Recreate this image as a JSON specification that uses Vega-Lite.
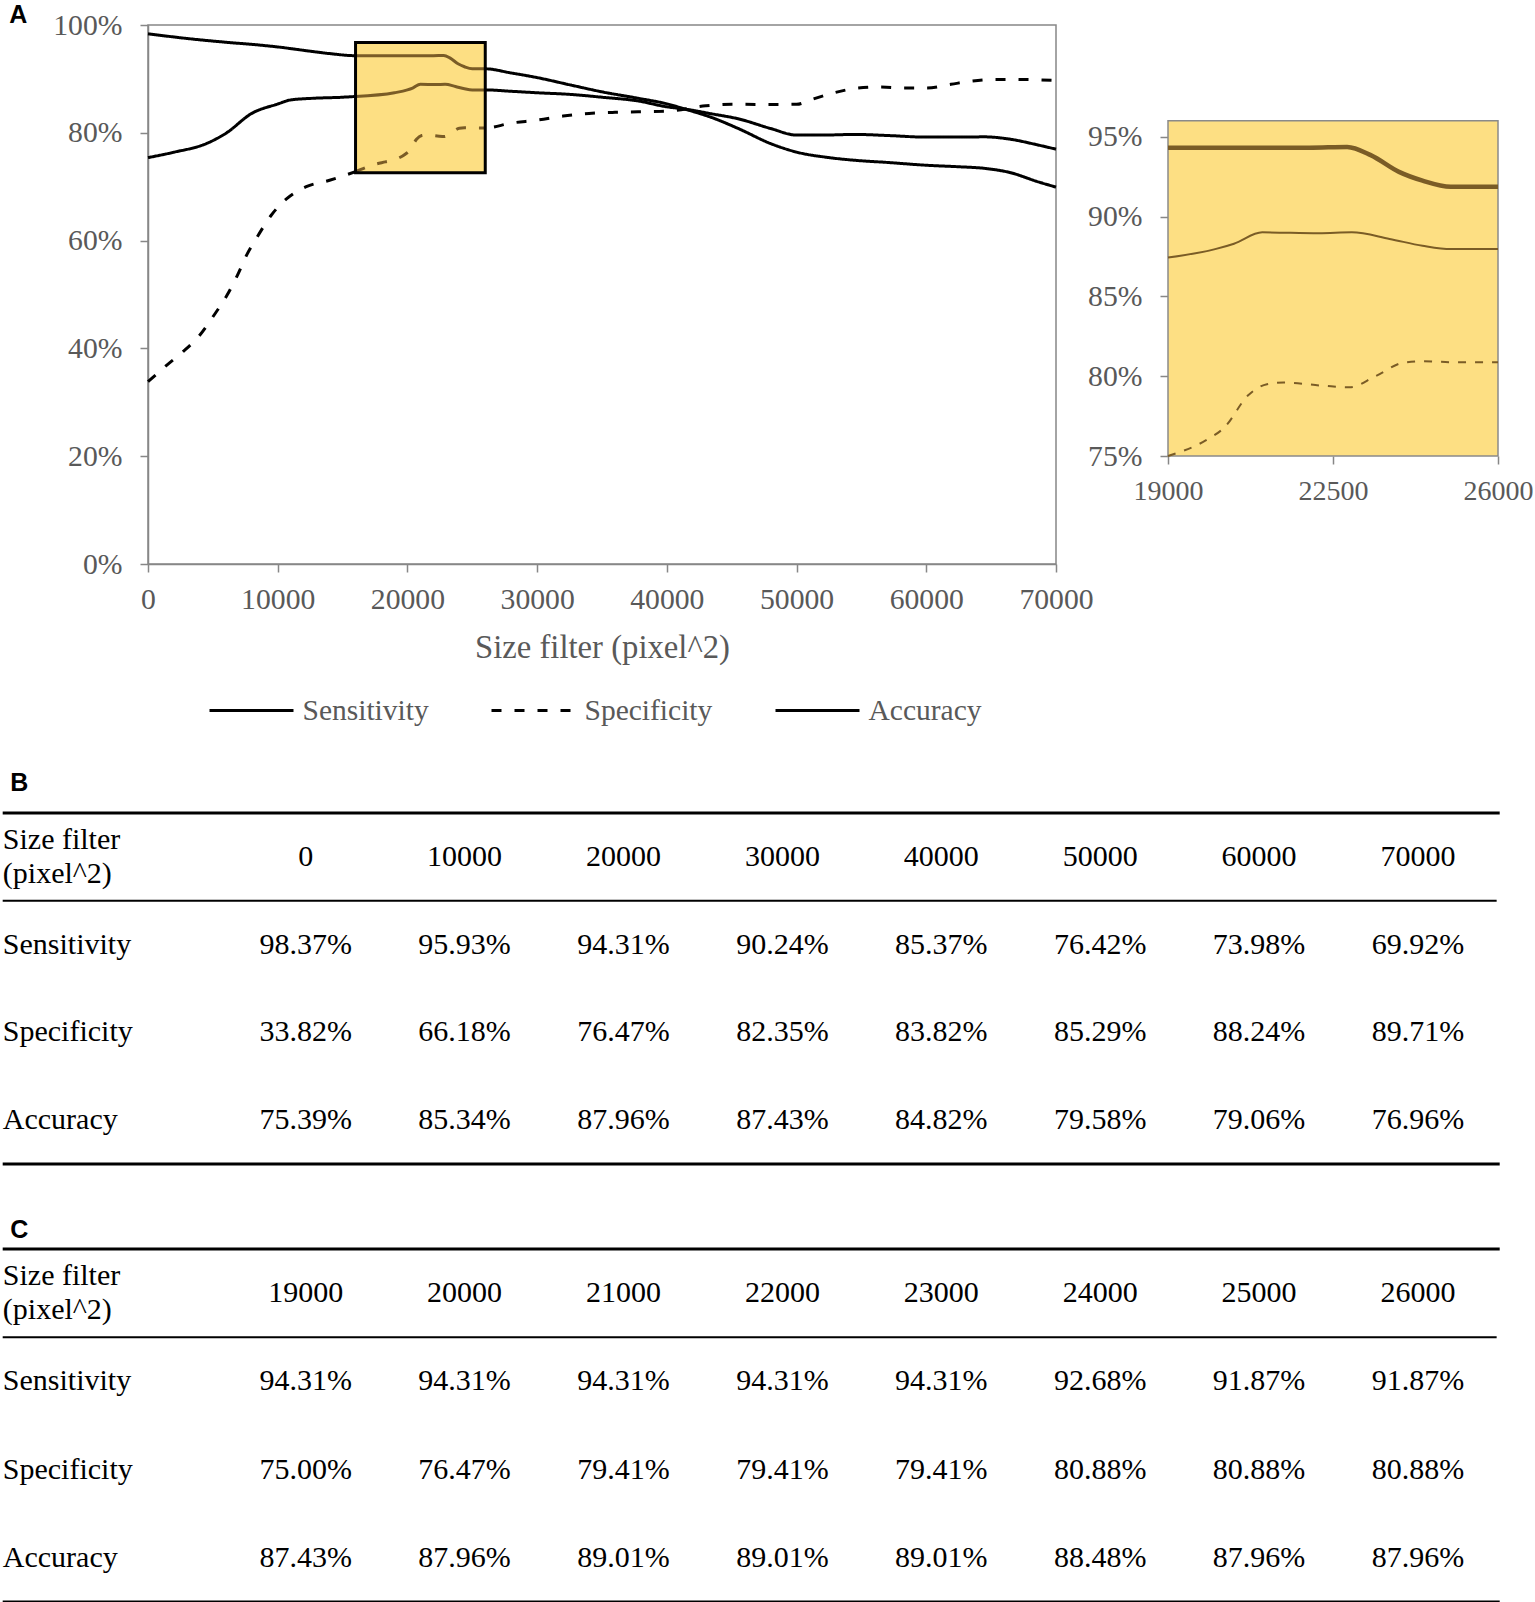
{
  "$schema": "https://vega.github.io/schema/vega-lite/v6.json",
  "padding": {"top": 3, "left": 1, "right": 0, "bottom": 0},
  "background": "white",
  "title": {"text": "A", "anchor": "start", "font": "Liberation Sans", "fontWeight": "bold", "fontSize": 25, "color": "black", "dx": 8, "offset": -19},
  "datasets": {
    "curves": [
      {"s":"Sensitivity","x":0,"v":98.37},{"s":"Sensitivity","x":3000,"v":97.5},{"s":"Sensitivity","x":6000,"v":96.8},{"s":"Sensitivity","x":8500,"v":96.3},{"s":"Sensitivity","x":10000,"v":95.93},{"s":"Sensitivity","x":12000,"v":95.3},{"s":"Sensitivity","x":14000,"v":94.7},{"s":"Sensitivity","x":16000,"v":94.31},{"s":"Sensitivity","x":19000,"v":94.31},{"s":"Sensitivity","x":20000,"v":94.31},{"s":"Sensitivity","x":21000,"v":94.31},{"s":"Sensitivity","x":22000,"v":94.31},{"s":"Sensitivity","x":22800,"v":94.36},{"s":"Sensitivity","x":23300,"v":93.85},{"s":"Sensitivity","x":23900,"v":92.8},{"s":"Sensitivity","x":24400,"v":92.25},{"s":"Sensitivity","x":25000,"v":91.87},{"s":"Sensitivity","x":26000,"v":91.87},{"s":"Sensitivity","x":28000,"v":91.1},{"s":"Sensitivity","x":30000,"v":90.24},{"s":"Sensitivity","x":32700,"v":88.8},{"s":"Sensitivity","x":35000,"v":87.6},{"s":"Sensitivity","x":37800,"v":86.4},{"s":"Sensitivity","x":40000,"v":85.37},{"s":"Sensitivity","x":41400,"v":84.4},{"s":"Sensitivity","x":43500,"v":82.8},{"s":"Sensitivity","x":45500,"v":80.8},{"s":"Sensitivity","x":48000,"v":78.0},{"s":"Sensitivity","x":50000,"v":76.42},{"s":"Sensitivity","x":52500,"v":75.4},{"s":"Sensitivity","x":54500,"v":74.9},{"s":"Sensitivity","x":57000,"v":74.5},{"s":"Sensitivity","x":60000,"v":73.98},{"s":"Sensitivity","x":62500,"v":73.7},{"s":"Sensitivity","x":64500,"v":73.4},{"s":"Sensitivity","x":66500,"v":72.6},{"s":"Sensitivity","x":68500,"v":71.0},{"s":"Sensitivity","x":70000,"v":69.92},
      {"s":"Specificity","x":0,"v":33.82},{"s":"Specificity","x":1500,"v":37.0},{"s":"Specificity","x":2700,"v":39.4},{"s":"Specificity","x":4000,"v":42.5},{"s":"Specificity","x":5100,"v":46.2},{"s":"Specificity","x":6100,"v":49.9},{"s":"Specificity","x":6900,"v":53.6},{"s":"Specificity","x":7600,"v":57.3},{"s":"Specificity","x":8500,"v":61.0},{"s":"Specificity","x":9500,"v":64.7},{"s":"Specificity","x":10000,"v":66.18},{"s":"Specificity","x":10700,"v":67.8},{"s":"Specificity","x":12200,"v":70.0},{"s":"Specificity","x":14000,"v":71.2},{"s":"Specificity","x":16000,"v":72.8},{"s":"Specificity","x":17300,"v":74.0},{"s":"Specificity","x":18300,"v":74.6},{"s":"Specificity","x":19000,"v":75.0},{"s":"Specificity","x":19800,"v":75.98},{"s":"Specificity","x":20200,"v":76.8},{"s":"Specificity","x":20700,"v":78.8},{"s":"Specificity","x":21100,"v":79.5},{"s":"Specificity","x":21450,"v":79.6},{"s":"Specificity","x":22300,"v":79.4},{"s":"Specificity","x":22850,"v":79.3},{"s":"Specificity","x":23400,"v":80.0},{"s":"Specificity","x":24000,"v":80.85},{"s":"Specificity","x":24400,"v":80.94},{"s":"Specificity","x":25000,"v":80.88},{"s":"Specificity","x":26000,"v":80.88},{"s":"Specificity","x":28000,"v":81.8},{"s":"Specificity","x":30000,"v":82.35},{"s":"Specificity","x":32000,"v":83.1},{"s":"Specificity","x":34000,"v":83.6},{"s":"Specificity","x":36000,"v":83.8},{"s":"Specificity","x":38000,"v":83.9},{"s":"Specificity","x":40000,"v":84.0},{"s":"Specificity","x":43000,"v":85.0},{"s":"Specificity","x":45000,"v":85.3},{"s":"Specificity","x":48000,"v":85.25},{"s":"Specificity","x":50000,"v":85.29},{"s":"Specificity","x":51200,"v":86.2},{"s":"Specificity","x":53000,"v":87.5},{"s":"Specificity","x":54750,"v":88.3},{"s":"Specificity","x":56500,"v":88.5},{"s":"Specificity","x":58300,"v":88.3},{"s":"Specificity","x":60000,"v":88.3},{"s":"Specificity","x":61900,"v":89.0},{"s":"Specificity","x":63500,"v":89.6},{"s":"Specificity","x":65300,"v":89.9},{"s":"Specificity","x":67000,"v":89.9},{"s":"Specificity","x":70000,"v":89.71},
      {"s":"Accuracy","x":0,"v":75.39},{"s":"Accuracy","x":2000,"v":76.4},{"s":"Accuracy","x":4500,"v":78.0},{"s":"Accuracy","x":6000,"v":79.9},{"s":"Accuracy","x":8000,"v":83.6},{"s":"Accuracy","x":10000,"v":85.34},{"s":"Accuracy","x":11000,"v":86.1},{"s":"Accuracy","x":12700,"v":86.4},{"s":"Accuracy","x":15000,"v":86.6},{"s":"Accuracy","x":16000,"v":86.75},{"s":"Accuracy","x":19000,"v":87.43},{"s":"Accuracy","x":20000,"v":87.96},{"s":"Accuracy","x":20400,"v":88.3},{"s":"Accuracy","x":21000,"v":89.01},{"s":"Accuracy","x":22200,"v":88.95},{"s":"Accuracy","x":22900,"v":89.01},{"s":"Accuracy","x":23700,"v":88.6},{"s":"Accuracy","x":24400,"v":88.17},{"s":"Accuracy","x":25000,"v":87.96},{"s":"Accuracy","x":26000,"v":87.96},{"s":"Accuracy","x":28000,"v":87.7},{"s":"Accuracy","x":30000,"v":87.43},{"s":"Accuracy","x":32700,"v":87.1},{"s":"Accuracy","x":35000,"v":86.6},{"s":"Accuracy","x":37800,"v":85.9},{"s":"Accuracy","x":40000,"v":84.82},{"s":"Accuracy","x":41400,"v":84.4},{"s":"Accuracy","x":43500,"v":83.5},{"s":"Accuracy","x":45500,"v":82.6},{"s":"Accuracy","x":48000,"v":80.8},{"s":"Accuracy","x":50000,"v":79.58},{"s":"Accuracy","x":52500,"v":79.6},{"s":"Accuracy","x":54500,"v":79.7},{"s":"Accuracy","x":57000,"v":79.5},{"s":"Accuracy","x":60000,"v":79.2},{"s":"Accuracy","x":62500,"v":79.2},{"s":"Accuracy","x":64500,"v":79.25},{"s":"Accuracy","x":66500,"v":78.8},{"s":"Accuracy","x":68500,"v":77.8},{"s":"Accuracy","x":70000,"v":76.96}
    ],
    "tableB": [
      {"row":0,"col":0,"t":"Size filter\n(pixel^2)"},{"row":0,"col":1,"t":"0"},{"row":0,"col":2,"t":"10000"},{"row":0,"col":3,"t":"20000"},{"row":0,"col":4,"t":"30000"},{"row":0,"col":5,"t":"40000"},{"row":0,"col":6,"t":"50000"},{"row":0,"col":7,"t":"60000"},{"row":0,"col":8,"t":"70000"},
      {"row":1,"col":0,"t":"Sensitivity"},{"row":1,"col":1,"t":"98.37%"},{"row":1,"col":2,"t":"95.93%"},{"row":1,"col":3,"t":"94.31%"},{"row":1,"col":4,"t":"90.24%"},{"row":1,"col":5,"t":"85.37%"},{"row":1,"col":6,"t":"76.42%"},{"row":1,"col":7,"t":"73.98%"},{"row":1,"col":8,"t":"69.92%"},
      {"row":2,"col":0,"t":"Specificity"},{"row":2,"col":1,"t":"33.82%"},{"row":2,"col":2,"t":"66.18%"},{"row":2,"col":3,"t":"76.47%"},{"row":2,"col":4,"t":"82.35%"},{"row":2,"col":5,"t":"83.82%"},{"row":2,"col":6,"t":"85.29%"},{"row":2,"col":7,"t":"88.24%"},{"row":2,"col":8,"t":"89.71%"},
      {"row":3,"col":0,"t":"Accuracy"},{"row":3,"col":1,"t":"75.39%"},{"row":3,"col":2,"t":"85.34%"},{"row":3,"col":3,"t":"87.96%"},{"row":3,"col":4,"t":"87.43%"},{"row":3,"col":5,"t":"84.82%"},{"row":3,"col":6,"t":"79.58%"},{"row":3,"col":7,"t":"79.06%"},{"row":3,"col":8,"t":"76.96%"}
    ],
    "tableC": [
      {"row":0,"col":0,"t":"Size filter\n(pixel^2)"},{"row":0,"col":1,"t":"19000"},{"row":0,"col":2,"t":"20000"},{"row":0,"col":3,"t":"21000"},{"row":0,"col":4,"t":"22000"},{"row":0,"col":5,"t":"23000"},{"row":0,"col":6,"t":"24000"},{"row":0,"col":7,"t":"25000"},{"row":0,"col":8,"t":"26000"},
      {"row":1,"col":0,"t":"Sensitivity"},{"row":1,"col":1,"t":"94.31%"},{"row":1,"col":2,"t":"94.31%"},{"row":1,"col":3,"t":"94.31%"},{"row":1,"col":4,"t":"94.31%"},{"row":1,"col":5,"t":"94.31%"},{"row":1,"col":6,"t":"92.68%"},{"row":1,"col":7,"t":"91.87%"},{"row":1,"col":8,"t":"91.87%"},
      {"row":2,"col":0,"t":"Specificity"},{"row":2,"col":1,"t":"75.00%"},{"row":2,"col":2,"t":"76.47%"},{"row":2,"col":3,"t":"79.41%"},{"row":2,"col":4,"t":"79.41%"},{"row":2,"col":5,"t":"79.41%"},{"row":2,"col":6,"t":"80.88%"},{"row":2,"col":7,"t":"80.88%"},{"row":2,"col":8,"t":"80.88%"},
      {"row":3,"col":0,"t":"Accuracy"},{"row":3,"col":1,"t":"87.43%"},{"row":3,"col":2,"t":"87.96%"},{"row":3,"col":3,"t":"89.01%"},{"row":3,"col":4,"t":"89.01%"},{"row":3,"col":5,"t":"89.01%"},{"row":3,"col":6,"t":"88.48%"},{"row":3,"col":7,"t":"87.96%"},{"row":3,"col":8,"t":"87.96%"}
    ],
    "rules": [{"pos":-0.5,"kind":"outer","from":-0.9069,"to":8.5142},{"pos":0.5,"kind":"inner","from":-0.9069,"to":8.495},{"pos":3.5,"kind":"outer","from":-0.9069,"to":8.5142}]
  },
  "spacing": 104,
  "vconcat": [
    {
      "hconcat": [
        {
          "width": 908,
          "height": 539,
          "view": {"stroke": "#878787", "strokeWidth": 1.5},
          "layer": [
            {
              "data": {"name": "curves"},
              "mark": {"type": "line", "color": "black", "strokeWidth": 3, "interpolate": "monotone"},
              "encoding": {
                "x": {"field": "x", "type": "quantitative", "scale": {"domain": [0, 70000], "nice": false, "zero": false},
                      "axis": {"values": [0,10000,20000,30000,40000,50000,60000,70000], "format": "d", "title": "Size filter (pixel^2)", "titlePadding": 18, "labelPadding": 13}},
                "y": {"field": "v", "type": "quantitative", "scale": {"domain": [0, 100], "nice": false},
                      "axis": {"values": [0,20,40,60,80,100], "labelExpr": "datum.value + '%'", "title": null, "labelPadding": 18, "minExtent": 146, "maxExtent": 146}},
                "strokeDash": {"field": "s", "type": "nominal",
                  "scale": {"domain": ["Sensitivity", "Specificity", "Accuracy"], "range": [[1,0],[10,13],[1,0]]},
                  "legend": {"orient": "none", "legendX": 60, "legendY": 642, "direction": "horizontal", "title": null,
                             "symbolType": "stroke", "symbolSize": 7056, "symbolStrokeWidth": 3, "symbolStrokeColor": "black",
                             "labelFont": "Liberation Serif", "labelFontSize": 29.5, "labelColor": "#595959", "labelOffset": 7.5,
                             "columnPadding": 56, "padding": 0}}
              }
            },
            {
              "data": {"values": [{"x": 16000, "x2": 26000, "v": 72.6, "v2": 96.75}]},
              "mark": {"type": "rect", "fill": "#FDDF83"},
              "encoding": {"x": {"field": "x", "type": "quantitative"}, "x2": {"field": "x2"}, "y": {"field": "v", "type": "quantitative"}, "y2": {"field": "v2"}}
            },
            {
              "data": {"name": "curves"},
              "transform": [{"filter": "datum.x >= 16000 && datum.x <= 26000 && datum.s != 'Specificity'"}],
              "mark": {"type": "line", "color": "#7A5C26", "strokeWidth": 3, "interpolate": "monotone"},
              "encoding": {
                "x": {"field": "x", "type": "quantitative"},
                "y": {"field": "v", "type": "quantitative"},
                "detail": {"field": "s", "type": "nominal"}
              }
            },
            {
              "data": {"name": "curves"},
              "transform": [{"filter": "datum.x >= 16000 && datum.x <= 26000 && datum.s == 'Specificity'"}],
              "mark": {"type": "line", "color": "#7A5C26", "strokeWidth": 3, "strokeDash": [10, 13], "interpolate": "monotone"},
              "encoding": {
                "x": {"field": "x", "type": "quantitative"},
                "y": {"field": "v", "type": "quantitative"}
              }
            },
            {
              "data": {"values": [{"x": 16000, "x2": 26000, "v": 72.6, "v2": 96.75}]},
              "mark": {"type": "rect", "fillOpacity": 0, "stroke": "black", "strokeWidth": 3},
              "encoding": {"x": {"field": "x", "type": "quantitative"}, "x2": {"field": "x2"}, "y": {"field": "v", "type": "quantitative"}, "y2": {"field": "v2"}}
            }
          ]
        },
        {
          "width": 330,
          "height": 431,
          "layer": [
            {
              "data": {"values": [{"x": 19000, "x2": 26000, "v": 75, "v2": 96}]},
              "mark": {"type": "rect", "fill": "#FDDF83", "stroke": "#8a8a8a", "strokeWidth": 1.5},
              "encoding": {
                "x": {"field": "x", "type": "quantitative", "scale": {"domain": [19000, 26000], "nice": false, "zero": false},
                      "axis": {"values": [19000, 22500, 26000], "format": "d", "title": null, "domain": false, "labelPadding": 13, "labelFontSize": 28}},
                "x2": {"field": "x2"},
                "y": {"field": "v", "type": "quantitative", "scale": {"domain": [75, 102], "nice": false, "zero": false},
                      "axis": {"values": [75, 80, 85, 90, 95], "labelExpr": "datum.value + '%'", "title": null, "domain": false, "labelPadding": 18}},
                "y2": {"field": "v2"}
              }
            },
            {
              "data": {"name": "curves"},
              "transform": [{"filter": "datum.x >= 19000 && datum.x <= 26000 && datum.s == 'Accuracy'"}],
              "mark": {"type": "line", "color": "#7A5C26", "strokeWidth": 2, "interpolate": "monotone"},
              "encoding": {"x": {"field": "x", "type": "quantitative"}, "y": {"field": "v", "type": "quantitative"}}
            },
            {
              "data": {"name": "curves"},
              "transform": [{"filter": "datum.x >= 19000 && datum.x <= 26000 && datum.s == 'Specificity'"}],
              "mark": {"type": "line", "color": "#7A5C26", "strokeWidth": 2, "strokeDash": [8, 9], "interpolate": "monotone"},
              "encoding": {"x": {"field": "x", "type": "quantitative"}, "y": {"field": "v", "type": "quantitative"}}
            },
            {
              "data": {"name": "curves"},
              "transform": [{"filter": "datum.x >= 19000 && datum.x <= 26000 && datum.s == 'Sensitivity'"}],
              "mark": {"type": "line", "color": "#7A5C26", "strokeWidth": 4.5, "interpolate": "monotone"},
              "encoding": {"x": {"field": "x", "type": "quantitative"}, "y": {"field": "v", "type": "quantitative"}}
            }
          ]
        }
      ],
      "spacing": 112,
      "bounds": "flush"
    },
    {
      "vconcat": [
        {
          "title": {"text": "B", "anchor": "start", "font": "Liberation Sans", "fontWeight": "bold", "fontSize": 25, "color": "black", "dx": 9, "offset": 16},
          "width": 1351.7,
          "height": 351,
          "layer": [
            {
              "data": {"name": "tableB"},
              "transform": [{"filter": "datum.col == 0 && datum.row > 0"}],
              "mark": {"type": "text", "align": "left", "baseline": "middle", "dx": -144, "font": "Liberation Serif", "fontSize": 30, "color": "black"},
              "encoding": {
                "x": {"field": "col", "type": "quantitative", "scale": {"domain": [0.00755, 8.5142], "nice": false, "zero": false}, "axis": null},
                "y": {"field": "row", "type": "quantitative", "scale": {"domain": [-0.5, 3.5], "nice": false, "zero": false, "reverse": true}, "axis": null},
                "text": {"field": "t"}
              }
            },
            {
              "data": {"name": "tableB"},
              "transform": [{"filter": "datum.col == 0 && datum.row == 0"}],
              "mark": {"type": "text", "align": "left", "baseline": "middle", "dx": -144, "dy": -17.25, "font": "Liberation Serif", "fontSize": 30, "color": "black", "lineBreak": "\n", "lineHeight": 34.5},
              "encoding": {
                "x": {"field": "col", "type": "quantitative"},
                "y": {"field": "row", "type": "quantitative"},
                "text": {"field": "t"}
              }
            },
            {
              "data": {"name": "tableB"},
              "transform": [{"filter": "datum.col > 0"}],
              "mark": {"type": "text", "align": "center", "baseline": "middle", "font": "Liberation Serif", "fontSize": 30, "color": "black"},
              "encoding": {
                "x": {"field": "col", "type": "quantitative"},
                "y": {"field": "row", "type": "quantitative"},
                "text": {"field": "t"}
              }
            },
            {
              "data": {"name": "rules"},
              "transform": [{"filter": "datum.kind == 'outer'"}],
              "mark": {"type": "rule", "color": "black", "strokeWidth": 3},
              "encoding": {"y": {"field": "pos", "type": "quantitative"}, "x": {"field": "from", "type": "quantitative"}, "x2": {"field": "to"}}
            },
            {
              "data": {"name": "rules"},
              "transform": [{"filter": "datum.kind == 'inner'"}],
              "mark": {"type": "rule", "color": "black", "strokeWidth": 2},
              "encoding": {"y": {"field": "pos", "type": "quantitative"}, "x": {"field": "from", "type": "quantitative"}, "x2": {"field": "to"}}
            }
          ]
        },
        {
          "title": {"text": "C", "anchor": "start", "font": "Liberation Sans", "fontWeight": "bold", "fontSize": 25, "color": "black", "dx": 9, "offset": 5},
          "width": 1351.7,
          "height": 353,
          "layer": [
            {
              "data": {"name": "tableC"},
              "transform": [{"filter": "datum.col == 0 && datum.row > 0"}],
              "mark": {"type": "text", "align": "left", "baseline": "middle", "dx": -144, "font": "Liberation Serif", "fontSize": 30, "color": "black"},
              "encoding": {
                "x": {"field": "col", "type": "quantitative", "scale": {"domain": [0.00755, 8.5142], "nice": false, "zero": false}, "axis": null},
                "y": {"field": "row", "type": "quantitative", "scale": {"domain": [-0.5, 3.5], "nice": false, "zero": false, "reverse": true}, "axis": null},
                "text": {"field": "t"}
              }
            },
            {
              "data": {"name": "tableC"},
              "transform": [{"filter": "datum.col == 0 && datum.row == 0"}],
              "mark": {"type": "text", "align": "left", "baseline": "middle", "dx": -144, "dy": -17.25, "font": "Liberation Serif", "fontSize": 30, "color": "black", "lineBreak": "\n", "lineHeight": 34.5},
              "encoding": {
                "x": {"field": "col", "type": "quantitative"},
                "y": {"field": "row", "type": "quantitative"},
                "text": {"field": "t"}
              }
            },
            {
              "data": {"name": "tableC"},
              "transform": [{"filter": "datum.col > 0"}],
              "mark": {"type": "text", "align": "center", "baseline": "middle", "font": "Liberation Serif", "fontSize": 30, "color": "black"},
              "encoding": {
                "x": {"field": "col", "type": "quantitative"},
                "y": {"field": "row", "type": "quantitative"},
                "text": {"field": "t"}
              }
            },
            {
              "data": {"name": "rules"},
              "transform": [{"filter": "datum.kind == 'outer'"}],
              "mark": {"type": "rule", "color": "black", "strokeWidth": 3},
              "encoding": {"y": {"field": "pos", "type": "quantitative"}, "x": {"field": "from", "type": "quantitative"}, "x2": {"field": "to"}}
            },
            {
              "data": {"name": "rules"},
              "transform": [{"filter": "datum.kind == 'inner'"}],
              "mark": {"type": "rule", "color": "black", "strokeWidth": 2},
              "encoding": {"y": {"field": "pos", "type": "quantitative"}, "x": {"field": "from", "type": "quantitative"}, "x2": {"field": "to"}}
            }
          ]
        }
      ],
      "spacing": 51
    }
  ],
  "config": {
    "view": {"stroke": null},
    "font": "Liberation Serif",
    "axis": {
      "labelFont": "Liberation Serif", "labelFontSize": 29.7, "labelColor": "#595959", "labelFlush": false,
      "titleFont": "Liberation Serif", "titleFontSize": 32.7, "titleColor": "#595959", "titleFontWeight": "normal",
      "domainColor": "#878787", "domainWidth": 1.5, "tickColor": "#878787", "tickWidth": 1.5, "tickSize": 8,
      "labelPadding": 14, "grid": false
    }
  }
}
